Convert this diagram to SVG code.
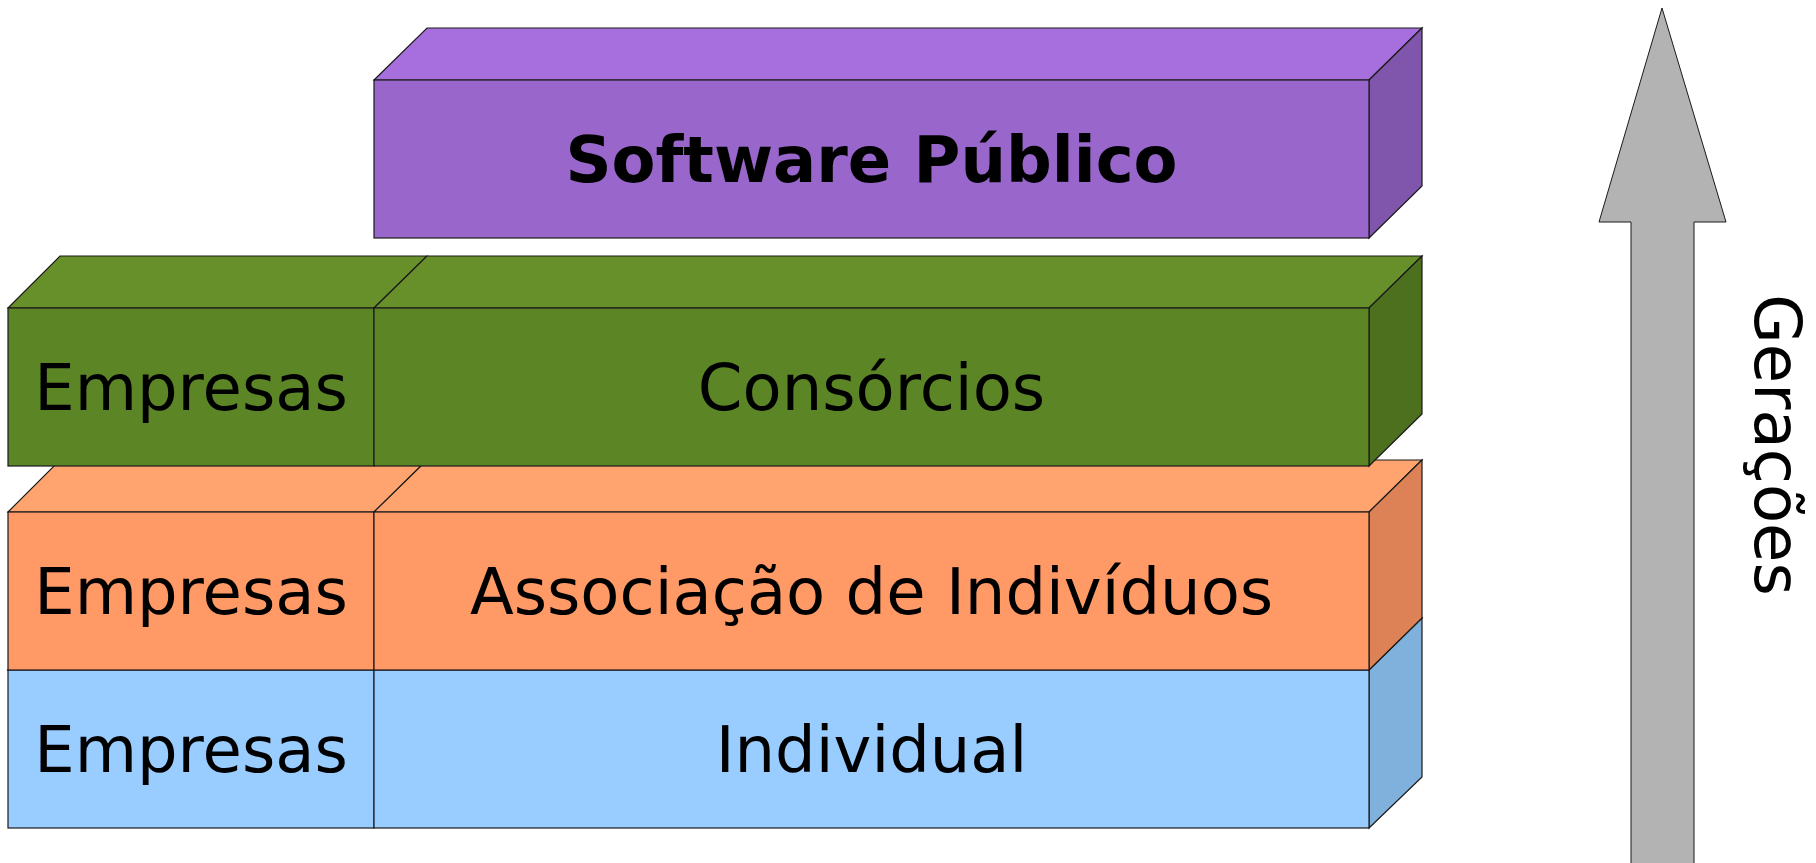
<svg xmlns="http://www.w3.org/2000/svg" width="1816" height="863" viewBox="0 0 1816 863">
<style>
.s{stroke:#1a1a1a;stroke-width:1.2;stroke-linejoin:miter}
.t{font-family:"DejaVu Sans",sans-serif;font-size:64px;fill:#000;text-anchor:middle}
.b{font-weight:bold}
.bf{fill:#99ccff}.bt{fill:#a6d3ff}.br{fill:#80b0dc}
.of{fill:#ff9966}.ot{fill:#ffa46f}.or{fill:#dd8257}
.gf{fill:#5c8526}.gt{fill:#67902b}.gr{fill:#4d701f}
.pf{fill:#9966cc}.pt{fill:#a66fdd}.pr{fill:#8056ad}
</style>
<rect width="1816" height="863" fill="#fff"/>
<g id="layer-individual">
  <g id="blue-empresas">
    <polygon class="s bt" points="8,670 60,618 427,618 374,670"/>
    <rect class="s bf" x="8" y="670" width="366" height="158"/>
    <text class="t" x="191" y="772">Empresas</text>
  </g>
  <g id="blue-individual">
    <polygon class="s bt" points="374,670 427,618 1422,618 1369,670"/>
    <polygon class="s br" points="1369,670 1422,618 1422,777 1369,828"/>
    <rect class="s bf" x="374" y="670" width="995" height="158"/>
    <text class="t" x="871.5" y="772">Individual</text>
  </g>
</g>
<g id="layer-associacao">
  <g id="orange-empresas">
    <polygon class="s ot" points="8,512 60,460 427,460 374,512"/>
    <rect class="s of" x="8" y="512" width="366" height="158"/>
    <text class="t" x="191" y="614">Empresas</text>
  </g>
  <g id="orange-associacao">
    <polygon class="s ot" points="374,512 427,460 1422,460 1369,512"/>
    <polygon class="s or" points="1369,512 1422,460 1422,618 1369,670"/>
    <rect class="s of" x="374" y="512" width="995" height="158"/>
    <text class="t" x="871.5" y="614">Associação de Indivíduos</text>
  </g>
</g>
<g id="layer-consorcios">
  <g id="green-empresas">
    <polygon class="s gt" points="8,308 60,256 427,256 374,308"/>
    <rect class="s gf" x="8" y="308" width="366" height="158"/>
    <text class="t" x="191" y="410">Empresas</text>
  </g>
  <g id="green-consorcios">
    <polygon class="s gt" points="374,308 427,256 1422,256 1369,308"/>
    <polygon class="s gr" points="1369,308 1422,256 1422,414 1369,466"/>
    <rect class="s gf" x="374" y="308" width="995" height="158"/>
    <text class="t" x="871.5" y="410">Consórcios</text>
  </g>
</g>
<g id="layer-software-publico">
  <polygon class="s pt" points="374,80 427,28 1422,28 1369,80"/>
  <polygon class="s pr" points="1369,80 1422,28 1422,186 1369,238"/>
  <rect class="s pf" x="374" y="80" width="995" height="158"/>
  <text class="t b" x="871.5" y="182">Software Público</text>
</g>
<g id="geracoes-arrow">
  <polygon points="1662,8 1726,222 1694,222 1694,875 1631,875 1631,222 1599,222" fill="#b3b3b3" stroke="#1a1a1a" stroke-width="1"/>
  <text class="t" transform="translate(1755,445) rotate(90)" x="0" y="0">Gerações</text>
</g>
</svg>
